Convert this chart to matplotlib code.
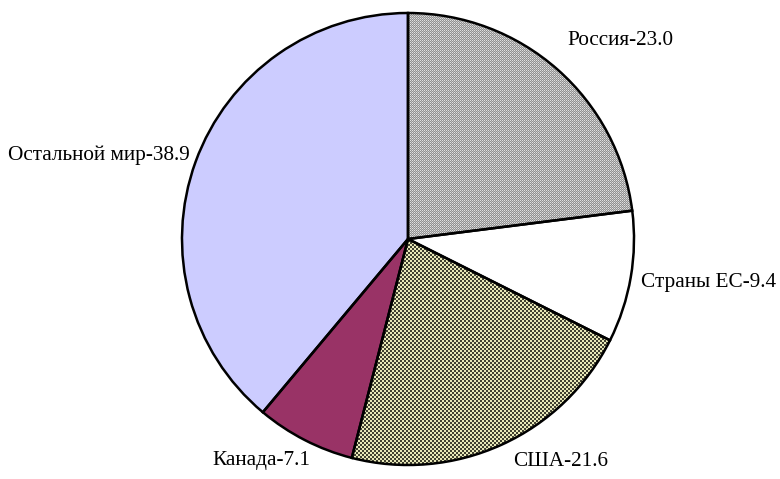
import numpy as np
import matplotlib.pyplot as plt

# данные диаграммы
labels = ["Россия", "Страны ЕС", "США", "Канада", "Остальной мир"]
values = [23.0, 9.4, 21.6, 7.1, 38.9]
colors = ["#b0b0b0", "#ffffff", "#949474", "#993366", "#ccccff"]

# размер картинки в пикселях
W, H = 780, 479
cx, cy, r = 408, H - 239, 226

# положение подписей (левый край, центр по высоте), в пикселях
label_pos = [(567, 40), (641, 282), (513, 461), (212, 461), (8, 155)]

plt.rcParams["font.family"] = ["Liberation Serif", "DejaVu Serif"]

fig = plt.figure(figsize=(W / 100, H / 100), dpi=100)
ax = fig.add_axes([0, 0, 1, 1])

wedges, _ = ax.pie(values, colors=colors, startangle=90, counterclock=False,
                   center=(cx, cy), radius=r,
                   wedgeprops=dict(linewidth=0))


# точечные заливки как в Excel
def texture(tile):
    tile = np.array(tile) / 255.0
    th, tw = tile.shape[:2]
    reps = (H // th + 1, W // tw + 1, 1)
    return np.tile(tile, reps)[:H, :W]


g1, g2, g3 = [224] * 3, [144] * 3, [192] * 3
russia_tex = texture([[g1, g2], [g2, g3]])
d, l = [64, 64, 48], [232, 232, 184]
usa_tex = texture([[d, d, l, l], [d, d, l, l], [l, l, d, d], [l, l, d, d]])

for idx, tex in [(0, russia_tex), (2, usa_tex)]:
    im = ax.imshow(tex, extent=(0, W, 0, H), origin="upper",
                   interpolation="nearest", zorder=2)
    im.set_clip_path(wedges[idx])

# контуры секторов
ax.pie(values, colors=["none"] * len(values), startangle=90, counterclock=False,
       center=(cx, cy), radius=r,
       wedgeprops=dict(linewidth=1.8, edgecolor="black", zorder=3))

for lab, val, (px, py) in zip(labels, values, label_pos):
    ax.text(px, H - py, f"{lab}-{val:.1f}", ha="left", va="center",
            fontsize=15.3, color="black")

ax.set_xlim(0, W)
ax.set_ylim(0, H)
ax.set_aspect("equal")
ax.axis("off")

fig.savefig("out.png", dpi=100)
